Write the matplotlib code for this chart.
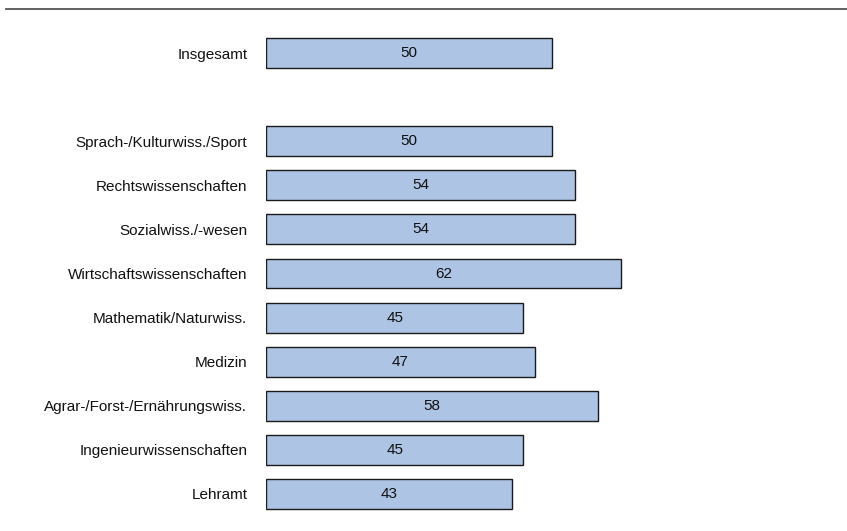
import matplotlib.pyplot as plt
from matplotlib.lines import Line2D

# Data
categories = [
    "Insgesamt",
    "Sprach-/Kulturwiss./Sport",
    "Rechtswissenschaften",
    "Sozialwiss./-wesen",
    "Wirtschaftswissenschaften",
    "Mathematik/Naturwiss.",
    "Medizin",
    "Agrar-/Forst-/Ernährungswiss.",
    "Ingenieurwissenschaften",
    "Lehramt",
]
values = [50, 50, 54, 54, 62, 45, 47, 58, 45, 43]
positions = [0, 2, 3, 4, 5, 6, 7, 8, 9, 10]

plt.rcParams['font.family'] = ['Liberation Sans', 'DejaVu Sans']

W, H = 847, 531
fig = plt.figure(figsize=(W / 100, H / 100), dpi=100)

# axes placed in pixel terms: x=0 at 266 px, 5.72 px per unit
left_px, right_px = 266, 266 + 572
top_px, bot_px = 31, 516
ax = fig.add_axes([left_px / W, (H - bot_px) / H,
                   (right_px - left_px) / W, (bot_px - top_px) / H])

ax.barh(positions, values, height=0.68, color="#aec4e4",
        edgecolor="#1a1a1a", linewidth=1.0)

for p, v in zip(positions, values):
    ax.text(v / 2, p, str(v), ha="center", va="center", fontsize=11,
            color="#111111")

ax.set_xlim(0, 100)
ax.set_ylim(10.5, -0.5)
ax.set_yticks(positions)
ax.set_yticklabels(categories, fontsize=11, color="#111111")
ax.tick_params(axis="y", length=0, pad=13.5)
ax.set_xticks([])
for s in ax.spines.values():
    s.set_visible(False)

# separator line at the top of the figure
fig.add_artist(Line2D([6 / W, 1.0], [1 - 9 / H, 1 - 9 / H],
                      color="#555555", linewidth=1.3))

fig.savefig("out.png", dpi=100)
